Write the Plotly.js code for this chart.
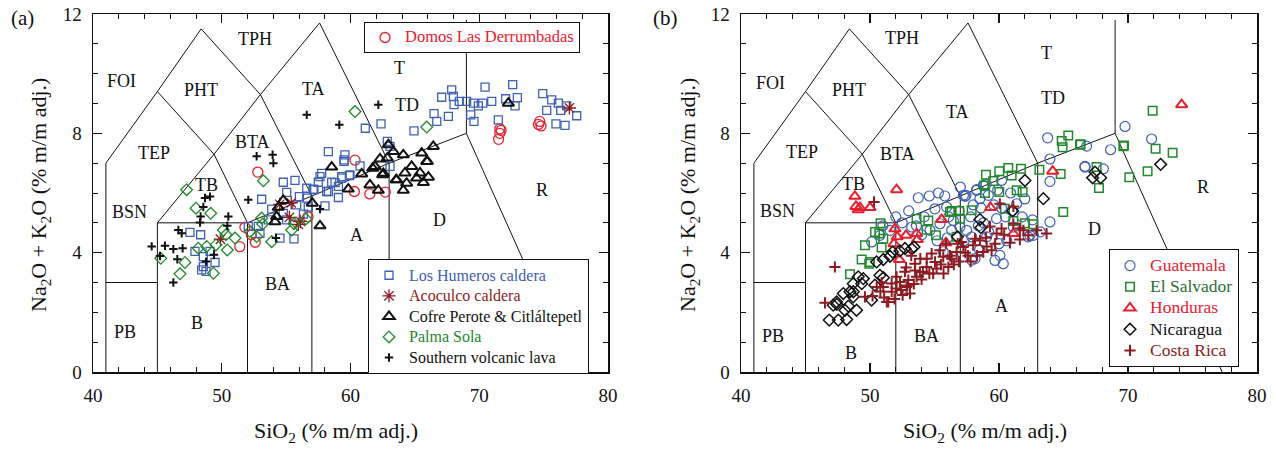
<!DOCTYPE html>
<html>
<head>
<meta charset="utf-8">
<script src="https://cdn.plot.ly/plotly-3.0.1.min.js"></script>
<style>
  html, body { margin: 0; padding: 0; background: #fff; }
  #chart { width: 1278px; height: 449px; }
</style>
</head>
<body>
<div id="chart"></div>
<script>
// ---- TAS classification grid (SiO2, Na2O+K2O) ----
const tasLines = [
  [[41, 0], [41, 7], [45, 9.4], [48.4, 11.5], [53, 9.3], [57, 5.9], [57, 0]],
  [[45, 0], [45, 5], [49.4, 7.3], [53, 9.3], [57.6, 11.7], [63, 7], [63, 0]],
  [[41, 3], [45, 3]],
  [[45, 5], [52, 5], [57, 5.9], [63, 7], [69, 8], [77.3, 0]],
  [[45, 9.4], [49.4, 7.3], [52, 5], [52, 0]],
  [[69, 8], [69, 11.8]]
];
const fieldNames = ['FOI', 'PHT', 'TPH', 'TA', 'T', 'TD', 'TEP', 'BTA', 'TB', 'BSN', 'PB', 'B', 'BA', 'A', 'D', 'R'];
const fieldPosA = [[42.25, 9.75], [48.4, 9.46], [52.6, 11.17], [57.1, 9.5], [63.8, 10.2], [64.4, 8.96], [44.7, 7.35], [52.4, 7.7], [48.8, 6.27], [42.8, 5.37], [42.5, 1.34], [48.1, 1.64], [54.3, 2.95], [60.5, 4.6], [66.9, 5.1], [74.9, 6.1]];
const fieldPosB = [[42.25, 9.7], [48.4, 9.46], [52.5, 11.2], [56.8, 8.7], [63.7, 10.7], [64.2, 9.2], [44.7, 7.36], [52.1, 7.3], [48.7, 6.3], [42.8, 5.4], [42.5, 1.2], [48.5, 0.65], [54.4, 1.2], [60.2, 2.2], [67.4, 4.8], [75.8, 6.2]];

// ---- (a) eastern Trans-Mexican Volcanic Belt ----
const domosSiO2 = [51.4, 51.8, 52.3, 52.6, 52.8, 56.7, 60.3, 60.35, 61.5, 62.7, 71.5, 71.6, 71.6, 71.7, 74.6, 74.7, 74.8];
const domosAlk  = [4.2, 4.85, 4.6, 4.35, 6.7, 5.2, 6.05, 7.1, 5.97, 6.03, 7.8, 8.0, 8.15, 8.1, 8.3, 8.4, 8.25];

const humerosSiO2 = [67.86, 67.08, 67.99, 68.45, 68.04, 69.02, 69.54, 69.93, 70.45, 70.97, 70.27, 69.34, 69.59, 71.48, 72.05, 72.6, 72.96, 72.78, 74.93, 75.63, 76.14, 75.24, 76.33, 76.79, 77.57, 75.96, 76.66, 67.6, 66.49, 66.7, 64.93, 62.37, 61.15, 58.28, 59.5, 60.74, 62.86, 63.07, 63.07, 59.96, 59.32, 57.76, 57.63, 56.6, 57.1, 58.28, 59.06, 58.8,
  59.57, 59.5, 59.91, 59.31, 58.54, 57.5, 58.15, 57.16, 55.69, 54.78, 55.04, 56.03, 56.6, 58.02, 59.06, 53.1, 53.88, 55.82, 56.72, 56.34, 54.78, 55.04, 53.62, 52.84, 52.97, 52.06, 54.52, 55.61,
  47.53, 48.36, 47.92, 48.57, 49.48, 48.57, 48.78, 48.44, 49.09];
const humerosAlk = [9.46, 9.21, 9.24, 9.07, 8.96, 9.07, 9.01, 8.92, 9.55, 9.07, 9.01, 8.62, 8.4, 8.45, 9.16, 9.63, 9.2, 8.92, 9.33, 9.12, 9.01, 8.77, 8.77, 8.92, 8.59, 8.32, 8.27, 8.57, 8.66, 8.4, 8.08, 8.32, 8.17, 7.39, 7.11, 6.91, 7.73, 7.56, 6.89, 6.61, 6.55, 6.66, 6.55, 6.16, 6.13, 6.05, 6.22, 6.35,
  7.28, 7.06, 6.58, 6.5, 6.36, 6.36, 6.05, 6.11, 6.42, 6.36, 6.02, 5.88, 5.83, 5.57, 5.85, 5.79, 5.46, 5.6, 5.53, 5.29, 5.32, 5.1, 5.1, 4.88, 4.65, 4.88, 4.49, 4.46,
  4.68, 4.6, 4.04, 3.87, 3.67, 3.53, 3.37, 3.42, 4.04];

const acoculcoSiO2 = [49.9, 54.5, 55.4, 55.25, 55.95, 56.1, 77.0];
const acoculcoAlk  = [4.45, 5.62, 5.67, 5.18, 4.95, 5.05, 8.85];

const cofreSiO2 = [54.78, 54.39, 54.26, 54.13, 57.03, 57.63, 58.54, 59.83, 60.87, 61.51, 62.16, 61.72, 62.29, 62.94, 63.33, 62.86, 62.5, 64.1, 63.58, 64.23, 64.75, 64.36, 64.1, 65.14, 65.4, 65.66, 65.97, 66.05, 65.53, 66.43, 72.26, 61.9, 63.54, 62.55, 65.92];
const cofreAlk  = [5.75, 5.52, 5.21, 5.04, 5.66, 4.9, 6.87, 6.13, 6.64, 6.27, 6.09, 6.83, 7.14, 7.62, 7.39, 7.17, 6.61, 7.28, 6.44, 6.67, 6.89, 6.33, 6.09, 6.5, 6.67, 6.35, 7.06, 6.53, 7.34, 7.56, 9.01, 6.89, 6.44, 6.66, 7.06];

const palmaSiO2 = [47.27, 53.23, 65.92, 60.35, 48.0, 49.14, 50.12, 50.33, 51.03, 50.43, 49.55, 48.83, 48.18, 47.14, 46.76, 45.26, 49.35, 52.19, 52.71, 53.1, 53.18, 53.88, 55.43, 55.61, 56.54];
const palmaAlk  = [6.11, 6.41, 8.21, 8.73, 5.49, 5.32, 4.76, 4.6, 4.49, 4.09, 4.26, 4.21, 4.15, 3.67, 3.29, 3.81, 3.31, 4.71, 4.54, 5.16, 4.96, 4.37, 4.76, 4.97, 5.13];

const southSiO2 = [59.13, 52.71, 53.95, 54.01, 52.06, 49.09, 48.7, 48.57, 48.36, 48.31, 50.51, 50.43, 46.63, 46.89, 44.56, 45.59, 46.24, 46.96, 46.55, 45.2, 46.24, 48.78, 49.4, 54.21, 57.63, 56.6, 62.16];
const southAlk  = [8.29, 7.23, 7.28, 7.0, 5.77, 5.88, 5.83, 5.53, 5.21, 5.01, 5.21, 4.9, 4.76, 4.65, 4.21, 4.23, 4.12, 4.15, 3.78, 3.89, 3.0, 3.7, 3.93, 4.49, 5.46, 8.62, 8.96];

// ---- (b) Central American Volcanic Arc ----
const guatSiO2 = [69.77, 63.77, 71.83, 66.79, 68.65, 63.95, 66.67, 68.09, 63.95, 60.2, 58.78, 57.44, 58.27,
  53.74, 55.03, 55.94, 57.36, 58.26, 58.52, 59.17, 61.37, 56.46, 56.97, 57.49, 56.33, 55.42, 54.65, 53.23, 51.55, 50.77, 50.13, 55.68, 56.46, 57.88, 60.07, 60.33, 59.04, 57.88, 59.81, 61.11, 62.27, 62.66, 63.95, 57.24, 58.14, 59.69, 62.4, 66.66,
  54.2, 55.8, 56.9, 57.8, 58.6, 59.6, 60.5, 60.9, 58.4, 59.2, 56.0, 54.0, 52.5, 51.0, 60.6, 61.8,
  52.0, 53.0, 54.6, 55.3, 56.1, 57.0, 58.0, 59.0, 59.9, 60.2, 61.0, 62.0, 62.6, 58.8, 57.3, 55.2, 53.6, 60.0, 58.5, 63.2];
const guatAlk = [8.23, 7.85, 7.81, 7.57, 7.45, 7.14, 6.89, 6.81, 6.39, 6.42, 6.25, 5.92, 6.11,
  5.84, 5.47, 5.53, 5.89, 6.09, 5.81, 5.92, 5.64, 5.08, 4.86, 4.75, 4.75, 4.97, 4.75, 4.86, 4.75, 4.58, 4.36, 4.03, 3.86, 3.75, 3.91, 3.63, 4.53, 4.53, 5.14, 4.86, 4.53, 4.58, 5.03, 5.92, 3.8, 3.74, 4.58, 6.87,
  5.2, 5.9, 5.4, 5.2, 5.5, 5.6, 5.2, 6.0, 4.9, 4.7, 4.5, 4.6, 5.0, 4.9, 4.4, 5.2,
  5.2, 5.4, 5.9, 6.0, 5.2, 6.2, 5.6, 6.3, 6.1, 5.5, 5.4, 5.8, 5.1, 5.0, 4.4, 4.4, 4.9, 4.3, 4.1, 4.7];

const salvSiO2 = [71.91, 65.37, 64.86, 64.93, 66.28, 69.64, 72.14, 73.46, 63.13, 64.78, 67.57, 67.75, 70.1, 71.52, 61.7, 60.72, 60.02, 60.98, 58.99, 60.02, 61.37, 61.83, 58.86, 66.33, 69.69, 64.98, 59.56, 58.91,
  60.46, 61.11, 62.01, 62.66, 57.88, 56.92, 56.33, 53.61, 54.52, 54.39, 55.11, 56.71, 50.82, 50.72, 49.61, 50.9, 51.03, 49.35, 49.94, 48.45, 50.0, 56.2, 56.98, 50.39];
const salvAlk = [8.76, 7.93, 7.74, 7.53, 7.62, 7.57, 7.48, 7.35, 6.78, 6.64, 6.87, 6.17, 6.53, 6.73, 6.81, 6.84, 6.73, 6.59, 6.61, 6.03, 6.09, 6.03, 6.25, 7.63, 7.59, 5.36, 6.4, 6.0,
  5.47, 5.06, 4.99, 4.95, 5.42, 5.4, 5.4, 5.14, 5.08, 4.77, 4.58, 4.53, 4.99, 4.64, 4.25, 4.17, 4.47, 3.77, 3.63, 3.28, 3.69, 5.36, 5.14, 4.69];

const hondSiO2 = [74.16, 64.16, 52.06, 48.83, 48.91, 49.09, 49.22, 50.0, 59.35, 55.55, 51.93, 52.79, 53.61, 53.67, 52.11, 51.86, 61.11, 55.89, 52.27];
const hondAlk  = [8.96, 6.73, 6.11, 5.89, 5.55, 5.44, 5.51, 5.51, 5.51, 5.11, 4.8, 4.58, 4.64, 4.44, 4.53, 4.3, 4.64, 4.33, 3.77];

const nicaSiO2 = [72.53, 62.01, 67.44, 67.26, 67.88, 63.44, 61.06, 58.52, 58.6, 56.77, 53.41, 52.71, 52.32, 51.75, 51.55, 51.03, 50.51, 50.77, 50.38, 49.48, 49.09, 48.7, 48.45, 47.93, 48.7, 47.41, 47.15, 48.06, 48.96, 47.54, 46.84, 50.12, 48.19, 48.32, 47.42, 48.71, 49.36, 51.04, 53.23];
const nicaAlk  = [6.96, 6.42, 6.7, 6.51, 6.51, 5.81, 5.4, 5.11, 4.84, 4.53, 4.19, 4.14, 4.06, 4.02, 3.88, 3.77, 3.69, 3.24, 2.91, 3.13, 3.19, 2.96, 2.69, 2.63, 2.52, 2.35, 2.24, 2.07, 2.07, 1.74, 1.74, 2.41, 1.76, 2.21, 2.27, 2.69, 2.96, 3.16, 4.13];

const costaSiO2 = [47.28, 46.51, 49.61, 50.31, 51.42, 51.03, 51.68, 52.32, 52.97, 53.61, 52.06, 52.84, 51.68, 52.53, 53.1, 53.87, 53.48, 54.39, 55.04, 55.68, 55.16, 56.07, 56.33, 56.71, 57.23, 58.0, 58.52, 59.04, 59.43, 58.78, 57.1, 59.82, 60.2, 59.3, 60.07, 61.11, 61.62, 62.27, 62.92, 63.69, 60.85, 61.62, 52.71, 52.06, 54.78, 55.42, 58.14, 50.52, 51.3, 61.11, 61.89,
  53.2, 54.0, 54.6, 55.9, 56.5, 57.6, 50.9, 52.8, 53.9,
  50.2, 50.8, 51.1, 51.9, 52.4, 52.9, 53.4, 53.5, 54.1, 54.9, 55.5, 55.7, 56.2, 56.9, 57.4, 57.8, 58.3, 59.0, 59.7, 60.4, 54.4, 56.8];
const costaAlk = [3.52, 2.32, 2.52, 5.7, 2.35, 2.85, 2.97, 3.02, 3.08, 3.19, 2.8, 2.85, 2.69, 2.58, 2.63, 3.36, 3.63, 3.52, 3.69, 3.86, 3.47, 3.52, 3.8, 4.02, 4.19, 4.25, 4.41, 4.21, 4.08, 4.02, 4.36, 4.64, 4.81, 4.88, 5.64, 4.97, 4.81, 4.58, 4.75, 4.64, 4.33, 4.44, 3.36, 3.19, 3.97, 4.08, 4.47, 2.85, 2.35, 5.55, 4.75,
  3.9, 3.1, 3.3, 4.3, 3.6, 3.9, 3.0, 3.5, 3.8,
  2.55, 2.7, 2.5, 2.45, 2.75, 2.9, 2.95, 3.4, 3.35, 3.3, 3.6, 3.3, 3.9, 3.7, 4.0, 3.7, 3.9, 4.5, 4.3, 4.6, 3.8, 4.3];

// ---- colours ----
const BLUE = '#4060b4', RED = '#e8202e', DARKRED = '#8c1c22', GREEN = '#22882c', INK = '#111111';
const SERIF = '"Liberation Serif", "Times New Roman", serif';

const W = 1278, H = 449;
const yDom = [1 - 372 / H, 1 - 14 / H];
const xDomA = [93 / W, 608 / W];
const xDomB = [741 / W, 1257 / W];

const traces = [];

// classification grid lines for both panels
['x', 'x2'].forEach((xa, i) => {
  tasLines.forEach(seg => {
    traces.push({
      type: 'scatter', mode: 'lines', xaxis: xa, yaxis: i ? 'y2' : 'y',
      x: seg.map(p => p[0]), y: seg.map(p => p[1]),
      line: { color: INK, width: 1 }, hoverinfo: 'skip', showlegend: false
    });
  });
});

function pts(name, xs, ys, panel, legend, symbol, size, color, lw) {
  return {
    type: 'scatter', mode: 'markers', name, legend,
    xaxis: panel === 'b' ? 'x2' : 'x', yaxis: panel === 'b' ? 'y2' : 'y',
    x: xs, y: ys,
    marker: { symbol, size, color, line: { color, width: lw } }
  };
}
// legend entry text: own colour and a slightly larger face than the row pitch
const tint = (c, t, px) => '<span style="color:' + c + ';font-size:' + px + 'px">' + t + '</span>';

traces.push(pts(tint(RED, 'Domos Las Derrumbadas', 16.5), domosSiO2, domosAlk, 'a', 'legend', 'circle-open', 10, RED, 1.3));
traces.push(pts(tint(BLUE, 'Los Humeros caldera', 16), humerosSiO2, humerosAlk, 'a', 'legend2', 'square-open', 8, BLUE, 1.3));
traces.push(pts(tint(DARKRED, 'Acoculco caldera', 16), acoculcoSiO2, acoculcoAlk, 'a', 'legend2', 'asterisk-open', 11, DARKRED, 1.3));
traces.push(pts(tint(INK, 'Cofre Perote &amp; Citláltepetl', 16), cofreSiO2, cofreAlk, 'a', 'legend2', 'triangle-up-open', 10, INK, 2));
traces.push(pts(tint(GREEN, 'Palma Sola', 16), palmaSiO2, palmaAlk, 'a', 'legend2', 'diamond-open', 9, GREEN, 1.3));
traces.push(pts(tint(INK, 'Southern volcanic lava', 16), southSiO2, southAlk, 'a', 'legend2', 'cross-thin-open', 6, INK, 2));

traces.push(pts(tint(RED, 'Guatemala', 17.5), guatSiO2, guatAlk, 'b', 'legend3', 'circle-open', 10, BLUE, 1.2));
traces.push(pts(tint('#2a6e34', 'El Salvador', 17.5), salvSiO2, salvAlk, 'b', 'legend3', 'square-open', 8.5, GREEN, 1.5));
traces.push(pts(tint(RED, 'Honduras', 17.5), hondSiO2, hondAlk, 'b', 'legend3', 'triangle-up-open', 10, RED, 2));
traces.push(pts(tint(INK, 'Nicaragua', 17.5), nicaSiO2, nicaAlk, 'b', 'legend3', 'diamond-open', 9, INK, 1.5));
traces.push(pts(tint(DARKRED, 'Costa Rica', 17.5), costaSiO2, costaAlk, 'b', 'legend3', 'cross-thin-open', 8, DARKRED, 2));

function xAxis(domain, anchor) {
  return {
    domain, anchor, range: [40, 80], tick0: 40, dtick: 10,
    ticks: 'inside', ticklen: 9, tickwidth: 1.2, tickcolor: INK,
    minor: { dtick: 2, ticks: 'inside', ticklen: 5, tickwidth: 1, tickcolor: INK, showgrid: false },
    showline: true, linecolor: INK, linewidth: 1.5, mirror: 'ticks',
    showgrid: false, zeroline: false, ticklabelstandoff: 6,
    tickfont: { family: SERIF, size: 19, color: INK }, fixedrange: true
  };
}
function yAxis(domain, anchor) {
  return {
    domain, anchor, range: [0, 12], tick0: 0, dtick: 4,
    ticks: 'inside', ticklen: 9, tickwidth: 1.2, tickcolor: INK,
    minor: { dtick: 1, ticks: 'inside', ticklen: 5, tickwidth: 1, tickcolor: INK, showgrid: false },
    showline: true, linecolor: INK, linewidth: 1.5, mirror: 'ticks',
    showgrid: false, zeroline: false, ticklabelstandoff: 6,
    tickfont: { family: SERIF, size: 19, color: INK }, fixedrange: true
  };
}

const annotations = [];
fieldNames.forEach((name, i) => {
  annotations.push({ xref: 'x', yref: 'y', x: fieldPosA[i][0], y: fieldPosA[i][1], text: name, showarrow: false, font: { family: SERIF, size: 18, color: INK } });
  annotations.push({ xref: 'x2', yref: 'y2', x: fieldPosB[i][0], y: fieldPosB[i][1], text: name, showarrow: false, font: { family: SERIF, size: 18, color: INK } });
});

const xTitle = 'SiO<sub>2</sub> (% m/m adj.)';
const yTitle = 'Na<sub>2</sub>O + K<sub>2</sub>O (% m/m adj.)';
const paperText = (x, y, text, size, angle) => ({
  xref: 'paper', yref: 'paper', x: x / W, y: 1 - y / H, xanchor: 'center', yanchor: 'middle',
  text, textangle: angle || 0, showarrow: false, font: { family: SERIF, size, color: INK }
});
[[336, '(a)', 22, 40], [985, '(b)', 665, 689]].forEach(([xc, tag, tx, yx]) => {
  annotations.push(paperText(xc, 432, xTitle, 22));
  annotations.push(paperText(yx, 195, yTitle, 22, -90));
  annotations.push(paperText(tx, 18, tag, 21));
});

const legendBase = {
  xref: 'paper', yref: 'paper', xanchor: 'left', yanchor: 'top',
  bgcolor: '#ffffff', bordercolor: INK, borderwidth: 1, itemwidth: 30,
  itemclick: false, itemdoubleclick: false
};

const layout = {
  width: W, height: H,
  margin: { l: 0, r: 0, t: 0, b: 0 },
  paper_bgcolor: '#ffffff', plot_bgcolor: '#ffffff',
  font: { family: SERIF, color: INK },
  showlegend: true,
  xaxis: xAxis(xDomA, 'y'), yaxis: yAxis(yDom, 'x'),
  xaxis2: xAxis(xDomB, 'y2'), yaxis2: yAxis(yDom, 'x2'),
  legend: Object.assign({}, legendBase, { x: 364 / W, y: 1 - 22 / H, font: { family: SERIF, size: 12, color: RED } }),
  legend2: Object.assign({}, legendBase, { x: 368 / W, y: 1 - 259 / H, font: { family: SERIF, size: 13.5, color: INK } }),
  legend3: Object.assign({}, legendBase, { x: 1109 / W, y: 1 - 249 / H, font: { family: SERIF, size: 14, color: INK } }),
  annotations
};

Plotly.newPlot('chart', traces, layout, { displayModeBar: false, staticPlot: true });
</script>
</body>
</html>
